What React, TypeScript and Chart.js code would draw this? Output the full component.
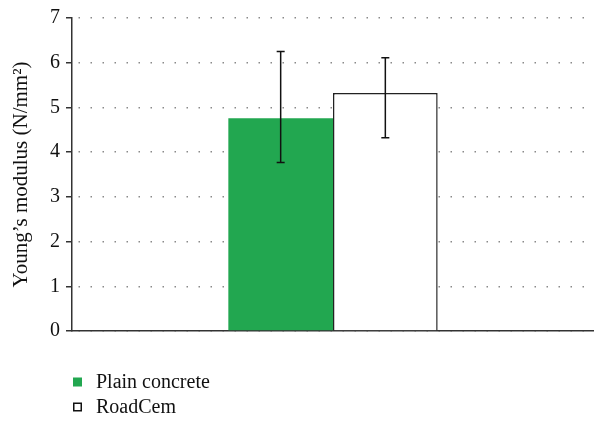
import React, { useEffect, useRef } from "react";
import { Chart, registerables } from "chart.js";

Chart.register(...registerables);

const categories = [""];
const seriesNames = ["Plain concrete", "RoadCem"];
const plainValues = [4.76];
const roadCemValues = [5.32];
const plainErrLow = [3.77];
const plainErrHigh = [6.25];
const roadCemErrLow = [4.32];
const roadCemErrHigh = [6.11];
const yTicks = [0, 1, 2, 3, 4, 5, 6, 7];
const yTitle = "Young\u2019s modulus (N/mm\u00B2)";

const FONT = "'Liberation Serif', 'Times New Roman', serif";
const GREEN = "#22a750";

const errorBarPlugin = {
  id: "errorBars",
  afterDatasetsDraw(chart: any) {
    const ctx = chart.ctx;
    const y = chart.scales.y;
    const lows = [plainErrLow, roadCemErrLow];
    const highs = [plainErrHigh, roadCemErrHigh];
    chart.data.datasets.forEach((_: any, di: number) => {
      const meta = chart.getDatasetMeta(di);
      meta.data.forEach((bar: any, i: number) => {
        const x = bar.x;
        const yl = y.getPixelForValue(lows[di][i]);
        const yh = y.getPixelForValue(highs[di][i]);
        ctx.save();
        ctx.strokeStyle = "#111";
        ctx.lineWidth = 1.5;
        ctx.beginPath();
        ctx.moveTo(x, yl);
        ctx.lineTo(x, yh);
        ctx.moveTo(x - 4, yl);
        ctx.lineTo(x + 4, yl);
        ctx.moveTo(x - 4, yh);
        ctx.lineTo(x + 4, yh);
        ctx.stroke();
        ctx.restore();
      });
    });
  },
};

const legendPlugin = {
  id: "customLegend",
  afterDraw(chart: any) {
    const ctx = chart.ctx;
    const left = chart.chartArea.left;
    const bottom = chart.chartArea.bottom;
    const rows = [bottom + 51, bottom + 76];
    chart.data.datasets.forEach((ds: any, i: number) => {
      const cy = rows[i];
      ctx.save();
      if (i === 0) {
        ctx.fillStyle = ds.backgroundColor;
        ctx.fillRect(left + 1, cy - 4.5, 9, 9);
      } else {
        ctx.strokeStyle = "#111";
        ctx.lineWidth = 1.5;
        ctx.strokeRect(left + 1.75, cy - 3.75, 7.5, 7.5);
      }
      ctx.fillStyle = "#111";
      ctx.font = `20px ${FONT}`;
      ctx.textBaseline = "middle";
      ctx.textAlign = "left";
      ctx.fillText(ds.label, left + 24, cy + 1);
      ctx.restore();
    });
  },
};

export default function App() {
  const ref = useRef<HTMLCanvasElement | null>(null);
  useEffect(() => {
    document.body.style.margin = "0";
    const canvas = ref.current;
    if (!canvas) return;
    const chart = new Chart(canvas, {
      type: "bar",
      data: {
        labels: categories,
        datasets: [
          {
            label: seriesNames[0],
            data: plainValues,
            backgroundColor: GREEN,
            borderWidth: 0,
          },
          {
            label: seriesNames[1],
            data: roadCemValues,
            backgroundColor: "#ffffff",
            borderColor: "#222",
            borderWidth: 1.5,
          },
        ],
      },
      options: {
        responsive: false,
        animation: false,
        devicePixelRatio: 1,
        layout: { padding: { top: 15, right: 0, bottom: 92, left: 0 } },
        plugins: {
          legend: { display: false },
          tooltip: { enabled: false },
        },
        datasets: {
          bar: { categoryPercentage: 0.401, barPercentage: 1 },
        },
        scales: {
          x: {
            grid: { display: false, drawTicks: false },
            ticks: { display: false },
            border: { display: true, color: "#333", width: 1.5 },
            afterFit: (s: any) => {
              s.height = 0;
            },
          },
          y: {
            min: 0,
            max: 7,
            afterBuildTicks: (s: any) => {
              s.ticks = yTicks.map((v) => ({ value: v }));
            },
            ticks: {
              color: "#111",
              font: { family: FONT, size: 20 },
              padding: 6,
            },
            grid: {
              color: "#8a8a8a",
              lineWidth: 1.5,
              tickLength: 6,
              tickColor: "#333",
              tickWidth: 1.5,
              tickBorderDash: [],
            },
            border: { display: true, color: "#333", width: 1.5, dash: [1.5, 10.5], dashOffset: -6 },
            title: {
              display: true,
              text: yTitle,
              color: "#111",
              font: { family: FONT, size: 21 },
              padding: { top: 9, bottom: 0 },
            },
            afterFit: (s: any) => {
              s.width = 72;
            },
          },
        },
      },
      plugins: [errorBarPlugin, legendPlugin],
    });
    return () => chart.destroy();
  }, []);
  return (
    <div style={{ width: 594, height: 423 }}>
      <canvas ref={ref} width={594} height={423} />
    </div>
  );
}
